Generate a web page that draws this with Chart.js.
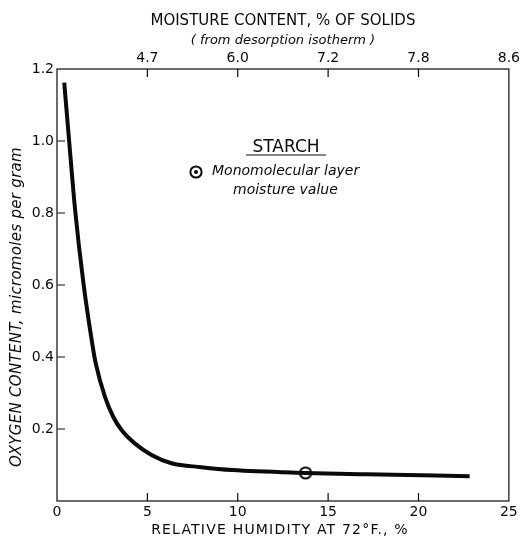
<!DOCTYPE html>
<html>
<head>
<meta charset="utf-8">
<script src="https://cdn.jsdelivr.net/npm/chart.js@4/dist/chart.umd.min.js"></script>
<style>
  html, body { margin: 0; padding: 0; background: #fff; }
</style>
</head>
<body>
<canvas id="starchChart" width="522" height="539"></canvas>
<script>
// oxygen content vs relative humidity
const humidity = [0.40, 0.68, 0.99, 1.46, 1.97, 2.14, 2.65, 3.11, 3.57, 4.30, 5.23, 6.33, 7.99, 9.71, 13.74, 17.09, 22.83];
const oxygen = [1.162, 0.995, 0.815, 0.606, 0.431, 0.383, 0.290, 0.234, 0.197, 0.160, 0.128, 0.105, 0.094, 0.086, 0.078, 0.074, 0.069];

// monomolecular layer moisture value
const monolayerHumidity = [13.75];
const monolayerOxygen = [0.078];

// top axis: moisture content at the humidity ticks
const humidityTicks = [0, 5, 10, 15, 20, 25];
const moistureTicks = ['', '4.7', '6.0', '7.2', '7.8', '8.6'];

const FONT = 'DejaVu Sans';
const INK = '#0a0a0a';

// circled dot symbol
const dot = document.createElement('canvas');
dot.width = 16; dot.height = 16;
(function () {
  const c = dot.getContext('2d');
  c.fillStyle = '#fff';
  c.strokeStyle = INK;
  c.lineWidth = 2;
  c.beginPath(); c.arc(8, 8, 5.6, 0, Math.PI * 2); c.fill(); c.stroke();
  c.fillStyle = INK;
  c.beginPath(); c.arc(8, 8, 2, 0, Math.PI * 2); c.fill();
})();

const framePlugin = {
  id: 'frame',
  afterDraw(chart) {
    const { ctx, chartArea: a, scales } = chart;
    ctx.save();
    ctx.strokeStyle = INK;
    ctx.lineWidth = 1.2;
    ctx.strokeRect(a.left, a.top, a.right - a.left, a.bottom - a.top);

    // inside ticks
    ctx.beginPath();
    scales.x.ticks.forEach(t => {
      if (t.value <= 0 || t.value >= 25) return;
      const px = scales.x.getPixelForValue(t.value);
      ctx.moveTo(px, a.bottom); ctx.lineTo(px, a.bottom - 8);
    });
    scales.x2.ticks.forEach(t => {
      if (t.value <= 0 || t.value >= 25) return;
      const px = scales.x2.getPixelForValue(t.value);
      ctx.moveTo(px, a.top); ctx.lineTo(px, a.top + 8);
    });
    scales.y.ticks.forEach(t => {
      if (t.value <= 0 || t.value >= 1.2) return;
      const py = scales.y.getPixelForValue(t.value);
      ctx.moveTo(a.left, py); ctx.lineTo(a.left + 8, py);
    });
    ctx.stroke();

    ctx.fillStyle = INK;

    // bottom title
    ctx.textAlign = 'center';
    ctx.textBaseline = 'middle';
    ctx.font = '14px "' + FONT + '"';
    ctx.letterSpacing = '1.2px';
    ctx.fillText('RELATIVE HUMIDITY AT 72°F., %', 280, 530);

    // left title
    ctx.save();
    ctx.translate(17, 307);
    ctx.rotate(-Math.PI / 2);
    ctx.font = 'italic 15px "' + FONT + '"';
    ctx.letterSpacing = '0.3px';
    ctx.fillText('OXYGEN CONTENT, micromoles per gram', 0, 0);
    ctx.restore();
    ctx.letterSpacing = '0px';

    // key
    const kx = a.left, ky = a.top;
    ctx.font = '17px "' + FONT + '"';
    ctx.fillText('STARCH', kx + 229, ky + 79);
    ctx.beginPath();
    ctx.moveTo(kx + 189, ky + 86); ctx.lineTo(kx + 269, ky + 86);
    ctx.stroke();
    ctx.drawImage(dot, kx + 131, ky + 95);
    ctx.textAlign = 'left';
    ctx.font = 'italic 14px "' + FONT + '"';
    ctx.fillText('Monomolecular layer', kx + 155, ky + 102);
    ctx.fillText('moisture value', kx + 176, ky + 121);
    ctx.restore();
  }
};

const ctx = document.getElementById('starchChart').getContext('2d');
new Chart(ctx, {
  type: 'line',
  data: {
    datasets: [{
      label: 'Starch',
      data: humidity.map((h, i) => ({ x: h, y: oxygen[i] })),
      borderColor: INK,
      borderWidth: 4,
      pointRadius: 0,
      cubicInterpolationMode: 'monotone',
      fill: false
    }, {
      label: 'Monomolecular layer moisture value',
      data: monolayerHumidity.map((h, i) => ({ x: h, y: monolayerOxygen[i] })),
      showLine: false,
      pointStyle: dot,
      pointRadius: 8
    }]
  },
  options: {
    responsive: false,
    devicePixelRatio: 1,
    animation: false,
    layout: { padding: { right: 12 } },
    plugins: {
      legend: { display: false },
      tooltip: { enabled: false },
      title: {
        display: true,
        fullSize: false,
        text: 'MOISTURE CONTENT, % OF SOLIDS',
        color: INK,
        font: { family: FONT, size: 15, weight: 'normal' },
        padding: { top: 12, bottom: 1 }
      },
      subtitle: {
        display: true,
        fullSize: false,
        text: '( from desorption isotherm )',
        color: INK,
        font: { family: FONT, size: 13, style: 'italic' },
        padding: { top: 2, bottom: 0 }
      }
    },
    scales: {
      x: {
        type: 'linear',
        position: 'bottom',
        min: 0, max: 25,
        afterFit: s => { s.height = 38; },
        ticks: { stepSize: 5, color: INK, font: { family: FONT, size: 14 }, padding: 3, maxRotation: 0 },
        grid: { display: false, drawTicks: false, tickLength: 0 },
        border: { display: false }
      },
      x2: {
        type: 'linear',
        position: 'top',
        min: 0, max: 25,
        afterFit: s => { s.height = 20.4; },
        ticks: {
          stepSize: 5,
          color: INK,
          font: { family: FONT, size: 14 },
          padding: 2,
          maxRotation: 0,
          callback: v => moistureTicks[humidityTicks.indexOf(v)]
        },
        grid: { display: false, drawTicks: false, tickLength: 0 },
        border: { display: false }
      },
      y: {
        min: 0, max: 1.2,
        afterFit: s => { s.width = 57; },
        ticks: {
          stepSize: 0.2,
          color: INK,
          font: { family: FONT, size: 14 },
          padding: 3,
          callback: v => v === 0 ? '' : v.toFixed(1)
        },
        grid: { display: false, drawTicks: false, tickLength: 0 },
        border: { display: false }
      }
    }
  },
  plugins: [framePlugin]
});
</script>
</body>
</html>
